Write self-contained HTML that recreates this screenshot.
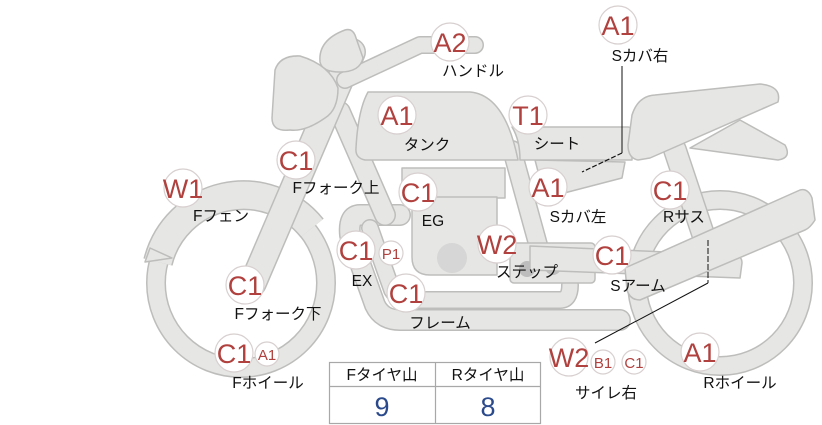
<!DOCTYPE html>
<html><head><meta charset="utf-8"><style>
html,body{margin:0;padding:0;background:#fff;}
svg{display:block;}
.s{fill:#e6e6e4;stroke:#bdbdbb;stroke-width:1.5;stroke-linejoin:round;}
.o{fill:none;stroke:#bdbdbb;stroke-linecap:round;stroke-linejoin:round;}
.ob{fill:none;stroke:#bdbdbb;stroke-linecap:butt;}
.ib{fill:none;stroke:#e6e6e4;stroke-linecap:butt;}
.i{fill:none;stroke:#e6e6e4;stroke-linecap:round;stroke-linejoin:round;}
.b{fill:#fff;stroke:#d8d0d0;stroke-width:1.2;}
.bt{font-family:"Liberation Sans",sans-serif;fill:#b0413e;text-anchor:middle;}
.l{font-family:"Liberation Sans","Noto Sans CJK JP",sans-serif;font-size:15.5px;fill:#111;text-anchor:middle;}
</style></head><body>
<svg width="822" height="425" viewBox="0 0 822 425" xmlns="http://www.w3.org/2000/svg">
<!-- wheels -->
<circle cx="241" cy="283" r="85" class="o" stroke-width="20"/>
<circle cx="241" cy="283" r="85" class="i" stroke-width="17"/>
<circle cx="720" cy="283" r="83" class="o" stroke-width="20"/>
<circle cx="720" cy="283" r="83" class="i" stroke-width="17"/>
<!-- fender -->
<path class="ob" d="M158,262 A88,88 0 0 1 312,228" stroke-width="30"/>
<path class="ib" d="M158,262 A88,88 0 0 1 312,228" stroke-width="27"/>
<path class="s" d="M145,262 L150,248 L172,258 Z"/>
<!-- exhaust / lower frame pipes -->
<path class="o" d="M400,215 L360,215 Q348,215 350,235 L375,305 Q382,320 400,320 L620,320" stroke-width="22"/>
<path class="i" d="M400,215 L360,215 Q348,215 350,235 L375,305 Q382,320 400,320 L620,320" stroke-width="19"/>
<path class="o" d="M370,228 L392,290 Q398,300 412,300 L560,300 Q570,300 570,285" stroke-width="18"/>
<path class="i" d="M370,228 L392,290 Q398,300 412,300 L560,300 Q570,300 570,285" stroke-width="15"/>
<!-- frame down tube -->
<path class="o" d="M340,112 L385,215" stroke-width="22"/>
<path class="i" d="M340,112 L385,215" stroke-width="19"/>
<!-- rear frame tube -->
<path class="o" d="M512,150 L545,270" stroke-width="20"/>
<path class="i" d="M512,150 L545,270" stroke-width="17"/>
<!-- step bar -->
<rect class="s" x="510" y="243" width="85" height="40" rx="4"/>
<!-- S cover left -->
<path class="s" d="M535,160 L625,162 L622,178 L545,198 Z"/>
<!-- engine -->
<rect class="s" x="402" y="168" width="103" height="30"/>
<path class="s" d="M412,197 L497,197 L497,275 L430,275 Q412,275 412,257 Z"/>
<circle cx="452" cy="258" r="15" fill="#d6d6d6"/>
<circle cx="527" cy="269" r="8" fill="#bdbdbd"/>
<circle cx="553" cy="267" r="8" fill="#bdbdbd"/>
<!-- shock -->
<path class="o" d="M675,150 L705,240" stroke-width="24"/>
<path class="i" d="M675,150 L705,240" stroke-width="21"/>
<!-- S arm -->
<path class="s" d="M530,246 L735,255 Q742,256 742,263 L740,278 L530,270 Z"/>
<!-- swing arm big -->
<path class="s" d="M625,268 L800,190 Q808,188 812,198 L815,220 Q810,228 805,230 L640,300 Q630,300 627,290 Z"/>
<!-- fork -->
<path class="o" d="M352,52 L253,283" stroke-width="28"/>
<path class="i" d="M352,52 L253,283" stroke-width="25"/>
<!-- handlebar -->
<path class="o" d="M345,80 L420,45 L475,45" stroke-width="18"/>
<path class="i" d="M345,80 L420,45 L475,45" stroke-width="15"/>
<!-- meter -->
<path class="s" d="M320,62 Q318,40 345,30 Q352,28 355,35 L363,58 Q360,72 340,72 Q322,72 320,62 Z"/>
<!-- headlight -->
<path class="s" d="M275,70 Q280,55 300,56 Q330,65 338,88 Q338,110 325,118 Q305,132 290,130 Q272,132 272,118 Z"/>
<!-- tank -->
<path class="s" d="M368,92 L470,92 Q505,95 518,160 L365,160 Q355,158 356,148 Q358,110 368,92 Z"/>
<!-- seat -->
<path class="s" d="M512,127 L628,127 Q632,127 632,135 L632,160 L520,160 Q520,140 512,127 Z"/>
<!-- rear cowl -->
<path class="s" d="M740,120 L785,145 Q792,158 778,160 L690,148 Z"/>
<path class="s" d="M632,115 Q638,96 655,95 L760,84 Q782,86 778,102 L650,158 L638,160 Q628,158 628,145 Z"/>
<!-- leader lines -->
<path d="M622,66 L622,153" stroke="#111" stroke-width="1" fill="none"/>
<path d="M622,153 L582,172" stroke="#111" stroke-width="1.2" stroke-dasharray="5,2" fill="none"/>
<path d="M708,240 L708,283" stroke="#111" stroke-width="1" stroke-dasharray="6,2" fill="none"/>
<path d="M708,283 L595,343" stroke="#111" stroke-width="1" fill="none"/>
<!-- badges -->
<g>
<circle class="b" cx="450" cy="42" r="19"/><text class="bt" x="450" y="52" font-size="27">A2</text>
<circle class="b" cx="618" cy="25" r="19"/><text class="bt" x="618" y="35" font-size="27">A1</text>
<circle class="b" cx="397" cy="115" r="19"/><text class="bt" x="397" y="125" font-size="27">A1</text>
<circle class="b" cx="528" cy="115" r="19"/><text class="bt" x="528" y="125" font-size="27">T1</text>
<circle class="b" cx="296" cy="160" r="19"/><text class="bt" x="296" y="170" font-size="27">C1</text>
<circle class="b" cx="183" cy="188" r="19"/><text class="bt" x="183" y="198" font-size="27">W1</text>
<circle class="b" cx="418" cy="192" r="19"/><text class="bt" x="418" y="202" font-size="27">C1</text>
<circle class="b" cx="548" cy="187" r="19"/><text class="bt" x="548" y="197" font-size="27">A1</text>
<circle class="b" cx="670" cy="190" r="19"/><text class="bt" x="670" y="200" font-size="27">C1</text>
<circle class="b" cx="356" cy="250" r="19"/><text class="bt" x="356" y="260" font-size="27">C1</text>
<circle class="b" cx="391" cy="253" r="12"/><text class="bt" x="391" y="259" font-size="15">P1</text>
<circle class="b" cx="497" cy="244" r="19"/><text class="bt" x="497" y="254" font-size="27">W2</text>
<circle class="b" cx="612" cy="255" r="19"/><text class="bt" x="612" y="265" font-size="27">C1</text>
<circle class="b" cx="245" cy="285" r="19"/><text class="bt" x="245" y="295" font-size="27">C1</text>
<circle class="b" cx="406" cy="293" r="19"/><text class="bt" x="406" y="303" font-size="27">C1</text>
<circle class="b" cx="234" cy="353" r="19"/><text class="bt" x="234" y="363" font-size="27">C1</text>
<circle class="b" cx="267" cy="354" r="12"/><text class="bt" x="267" y="360" font-size="15">A1</text>
<circle class="b" cx="569" cy="357" r="19"/><text class="bt" x="569" y="367" font-size="27">W2</text>
<circle class="b" cx="603" cy="362" r="12"/><text class="bt" x="603" y="368" font-size="15">B1</text>
<circle class="b" cx="634" cy="362" r="12"/><text class="bt" x="634" y="368" font-size="15">C1</text>
<circle class="b" cx="700" cy="352" r="19"/><text class="bt" x="700" y="362" font-size="27">A1</text>
</g>
<!-- labels -->
<text class="l" x="473" y="76">ハンドル</text>
<text class="l" x="640" y="61">Sカバ右</text>
<text class="l" x="427" y="150">タンク</text>
<text class="l" x="557" y="149">シート</text>
<text class="l" x="336" y="193">Fフォーク上</text>
<text class="l" x="221" y="221">Fフェン</text>
<text class="l" x="433" y="226">EG</text>
<text class="l" x="578" y="222">Sカバ左</text>
<text class="l" x="684" y="222">Rサス</text>
<text class="l" x="362" y="286">EX</text>
<text class="l" x="527" y="277">ステップ</text>
<text class="l" x="638" y="291">Sアーム</text>
<text class="l" x="278" y="319">Fフォーク下</text>
<text class="l" x="440" y="328">フレーム</text>
<text class="l" x="268" y="388">Fホイール</text>
<text class="l" x="606" y="398">サイレ右</text>
<text class="l" x="740" y="388">Rホイール</text>
<!-- table -->
<rect x="329.5" y="362.5" width="211" height="61" fill="#fff" stroke="#a8a8a8" stroke-width="1.2"/>
<line x1="329.5" y1="386.5" x2="540.5" y2="386.5" stroke="#a8a8a8" stroke-width="1.2"/>
<line x1="435.5" y1="362.5" x2="435.5" y2="423.5" stroke="#a8a8a8" stroke-width="1.2"/>
<text class="l" x="382" y="380" font-size="14">Fタイヤ山</text>
<text class="l" x="488" y="380" font-size="14">Rタイヤ山</text>
<text x="382" y="416" font-family="Liberation Sans,sans-serif" font-size="27" fill="#2b4a8c" text-anchor="middle">9</text>
<text x="488" y="416" font-family="Liberation Sans,sans-serif" font-size="27" fill="#2b4a8c" text-anchor="middle">8</text>
</svg>
</body></html>
